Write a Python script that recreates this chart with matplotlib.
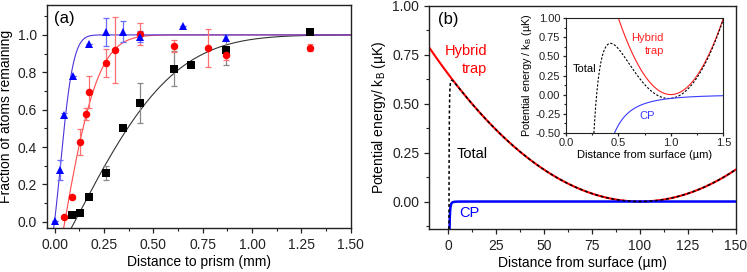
import math
import numpy as np
import matplotlib
matplotlib.use("Agg")
import matplotlib.pyplot as plt
from matplotlib.ticker import MultipleLocator, FormatStrFormatter

plt.rcParams['font.family'] = ['Liberation Sans', 'DejaVu Sans']
plt.rcParams['font.size'] = 10
plt.rcParams['mathtext.fontset'] = 'custom'
plt.rcParams['mathtext.rm'] = 'Liberation Sans'
plt.rcParams['mathtext.it'] = 'Liberation Sans:italic'

# ---------------- Panel (a) data ----------------
blue_x = [0.002, 0.027, 0.046, 0.091, 0.176, 0.261, 0.345, 0.433, 0.649, 0.866]
blue_y = [0.005, 0.277, 0.571, 0.780, 0.950, 1.014, 1.018, 0.991, 1.047, 0.984]
blue_err = [0.0, 0.052, 0.01, 0.0, 0.0, 0.076, 0.054, 0.03, 0.0, 0.015]

red_x = [0.046, 0.088, 0.130, 0.159, 0.173, 0.261, 0.306, 0.433, 0.603, 0.779, 0.866, 1.295]
red_y = [0.027, 0.132, 0.427, 0.577, 0.696, 0.852, 0.920, 1.005, 0.939, 0.930, 0.894, 0.932]
red_err = [0.0, 0.01, 0.069, 0.03, 0.085, 0.075, 0.178, 0.06, 0.033, 0.103, 0.03, 0.02]

black_x = [0.088, 0.130, 0.173, 0.261, 0.349, 0.434, 0.603, 0.690, 0.866, 1.295]
black_y = [0.036, 0.045, 0.134, 0.259, 0.500, 0.635, 0.819, 0.837, 0.921, 1.013]
black_err = [0.0, 0.0, 0.0, 0.038, 0.0, 0.106, 0.095, 0.0, 0.08, 0.01]

# fit-curve parameters (model curves)
blue_fit = dict(B=1.16, xc=-0.036, w=0.092)
red_fit = dict(B=1.75, xc=-0.135, w=0.249)
black_fit = dict(x0=0.101, w=0.563)

# ---------------- Panel (b) model parameters ----------------
trap_curv_main = 6.52e-5   # uK / um^2
trap_center_main = 100.0   # um
trap_curv_inset = 4.0      # uK / um^2
trap_center_inset = 1.0    # um
cp_c3 = 0.05               # uK um^3

fig = plt.figure(figsize=(7.47, 2.72), dpi=100)

spine_col = '#222222'

def style_axes(ax, lw=1.0):
    for s in ax.spines.values():
        s.set_color(spine_col)
        s.set_linewidth(lw)
    ax.tick_params(which='both', direction='out', colors=spine_col, top=False, right=False)
    ax.tick_params(which='major', length=3.5, width=0.9)
    ax.tick_params(which='minor', length=2, width=0.8)

# ---- Panel (a)
axa = fig.add_axes([0.0625, 0.1605, 0.407, 0.8211])
xf = np.linspace(-0.04, 1.5, 1500)
yb = 1 - blue_fit['B'] * np.exp(-((xf - blue_fit['xc']) / blue_fit['w']) ** 2)
yr = 1 - red_fit['B'] * np.exp(-((xf - red_fit['xc']) / red_fit['w']) ** 2)
erf_v = np.vectorize(math.erf)
yk = erf_v((xf - black_fit['x0']) / black_fit['w'])
axa.plot(xf, yk, color='#333333', lw=0.8, zorder=2)
axa.plot(xf, yr, color='#ff4a4a', lw=0.8, zorder=2)
axa.plot(xf, yb, color='#4a35d8', lw=0.8, zorder=2)

def eb(x, y, e, col, ecol, marker):
    axa.errorbar(x, y, yerr=e, fmt='none', ecolor=ecol, elinewidth=0.9, capsize=2.2,
                 capthick=0.9, zorder=3)
    axa.plot(x, y, linestyle='none', marker=marker, color=col, markersize=5.4,
             markeredgewidth=0, zorder=4)

eb(black_x, black_y, black_err, '#000000', '#888888', 's')
eb(red_x, red_y, red_err, '#ff0000', '#ff7070', 'o')
eb(blue_x, blue_y, blue_err, '#0000ff', '#6a6aff', '^')

axa.set_xlim(-0.04, 1.5)
axa.set_ylim(-0.035, 1.16)
axa.xaxis.set_major_locator(MultipleLocator(0.25))
axa.xaxis.set_minor_locator(MultipleLocator(0.125))
axa.yaxis.set_major_locator(MultipleLocator(0.2))
axa.yaxis.set_minor_locator(MultipleLocator(0.1))
axa.xaxis.set_major_formatter(FormatStrFormatter('%.2f'))
axa.yaxis.set_major_formatter(FormatStrFormatter('%.1f'))
style_axes(axa)
axa.set_xlabel('Distance to prism (mm)', labelpad=2)
axa.set_ylabel('Fraction of atoms remaining', labelpad=3)
axa.text(0.025, 0.94, '(a)', transform=axa.transAxes, fontsize=12, va='center', ha='left')

# ---- Panel (b)
axb = fig.add_axes([0.5743, 0.1570, 0.4106, 0.8210])
xm = np.linspace(0.15, 150, 30000)
hyb = trap_curv_main * (xm - trap_center_main) ** 2
cp = -cp_c3 / xm ** 3
tot = hyb + cp
xh = np.linspace(-10, 150, 500)
axb.plot(xh, trap_curv_main * (xh - trap_center_main) ** 2, color='#ff0000', lw=1.5, zorder=2)
axb.plot(xm, tot, color='black', lw=1.1, linestyle=(0, (2.0, 1.6)), zorder=3)
axb.plot(xm, cp, color='#0000ff', lw=1.8, zorder=2)
axb.set_xlim(-10, 150)
axb.set_ylim(-0.142, 1.0)
axb.xaxis.set_major_locator(MultipleLocator(25))
axb.xaxis.set_minor_locator(MultipleLocator(12.5))
axb.yaxis.set_major_locator(MultipleLocator(0.25))
axb.yaxis.set_minor_locator(MultipleLocator(0.125))
axb.yaxis.set_major_formatter(FormatStrFormatter('%.2f'))
style_axes(axb)
axb.set_xlabel('Distance from surface (\u00b5m)', labelpad=2)
axb.set_ylabel('Potential energy/ k$_\\mathrm{B}$ (\u00b5K)', labelpad=3)
axb.text(0.03, 0.94, '(b)', transform=axb.transAxes, fontsize=12, va='center', ha='left')
axb.text(20.3, 0.768, 'Hybrid', color='#ff0000', ha='right', va='center', fontsize=10.5)
axb.text(20.3, 0.68, 'trap', color='#ff0000', ha='right', va='center', fontsize=10.5)
axb.text(4.5, 0.243, 'Total', color='black', ha='left', va='center', fontsize=10.5)
axb.text(6.0, -0.06, 'CP', color='#0000ff', ha='left', va='center', fontsize=10.5)

# ---- Inset
axi = fig.add_axes([0.7577, 0.5121, 0.2106, 0.4206])
xi = np.linspace(0.2, 1.5, 3000)
hyb_i = trap_curv_inset * (xi - trap_center_inset) ** 2
cp_i = -cp_c3 / xi ** 3
tot_i = hyb_i + cp_i
axi.plot(xi, hyb_i, color='#ff2020', lw=0.8)
axi.plot(xi, tot_i, color='black', lw=0.8, linestyle=(0, (2.0, 1.5)))
axi.plot(xi, cp_i, color='#3a3aff', lw=0.8)
axi.set_xlim(0, 1.5)
axi.set_ylim(-0.5, 1.0)
axi.xaxis.set_major_locator(MultipleLocator(0.5))
axi.xaxis.set_minor_locator(MultipleLocator(0.25))
axi.yaxis.set_major_locator(MultipleLocator(0.25))
axi.yaxis.set_minor_locator(MultipleLocator(0.125))
axi.yaxis.set_major_formatter(FormatStrFormatter('%.2f'))
axi.xaxis.set_major_formatter(FormatStrFormatter('%.1f'))
style_axes(axi, lw=0.8)
axi.tick_params(which='major', length=2.5, labelsize=8, pad=1.5)
axi.tick_params(which='minor', length=1.5)
axi.set_xlabel('Distance from surface (\u00b5m)', fontsize=8, labelpad=1)
axi.set_ylabel('Potential energy / k$_\\mathrm{B}$ (\u00b5K)', fontsize=7.8, labelpad=1)
axi.text(0.934, 0.738, 'Hybrid', color='#ff2020', ha='right', va='center', fontsize=8)
axi.text(0.934, 0.571, 'trap', color='#ff2020', ha='right', va='center', fontsize=8)
axi.text(0.067, 0.336, 'Total', color='black', ha='left', va='center', fontsize=8)
axi.text(0.696, -0.28, 'CP', color='#3a3aff', ha='left', va='center', fontsize=8)

fig.savefig('out.png', dpi=100)
